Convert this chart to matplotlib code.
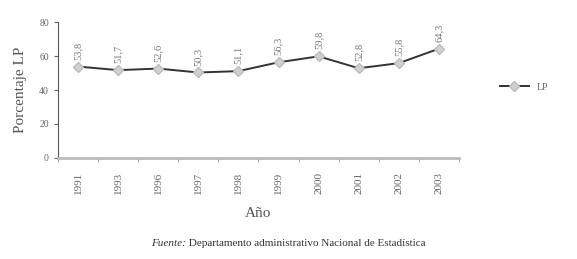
import matplotlib
matplotlib.use("Agg")
import matplotlib.pyplot as plt
import numpy as np

years = ['1991', '1993', '1996', '1997', '1998', '1999', '2000', '2001', '2002', '2003']
lp = [53.8, 51.7, 52.6, 50.3, 51.1, 56.3, 59.8, 52.8, 55.8, 64.3]
y_ticks = [0, 20, 40, 60, 80]

plt.rcParams['font.family'] = ['Liberation Serif', 'DejaVu Serif']

fig = plt.figure(figsize=(5.77, 2.59), dpi=100)
ax = fig.add_axes([0.1005, 0.39, 0.695, 0.525])

x = np.arange(len(years))
ax.plot(x, lp, color='#333333', lw=1.4, marker='D', ms=5,
        mfc='#d0d0d0', mec='#bbbbbb', label='LP')

for xi, v in zip(x, lp):
    ax.annotate(f'{v:.1f}'.replace('.', ','), (xi, v), xytext=(0, 5),
                textcoords='offset points', rotation=90, ha='center', va='bottom',
                fontsize=7.5, color='#777777')

ax.set_xlim(-0.5, len(years) - 0.5)
ax.set_ylim(0, 80)
ax.set_yticks(y_ticks)
ax.set_yticklabels([str(t) for t in y_ticks], fontsize=7, color='#666666')
ax.set_xticks(x)
ax.set_xticklabels(years, rotation=90, fontsize=8, color='#666666')
ax.set_xticks(np.arange(-0.5, len(years)), minor=True)
ax.tick_params(axis='x', which='major', length=0, pad=10)
ax.tick_params(axis='x', which='minor', length=3, color='#999999')
ax.tick_params(axis='y', length=3, color='#666666')

for s in ['top', 'right']:
    ax.spines[s].set_visible(False)
ax.spines['left'].set_color('#555555')
ax.spines['left'].set_linewidth(0.8)
ax.spines['bottom'].set_color('#bbbbbb')
ax.spines['bottom'].set_linewidth(2)

ax.set_ylabel('Porcentaje LP', fontsize=11, color='#555555', labelpad=9)
ax.set_xlabel('Año', fontsize=11, color='#555555', labelpad=9)

ax.legend(loc='center left', bbox_to_anchor=(1.08, 0.52), frameon=False,
          fontsize=7, handlelength=3, labelcolor='#666666')

fig.text(0.322, 0.05, 'Fuente:', fontsize=8, ha='right', style='italic', color='#333333')
fig.text(0.322, 0.05, ' Departamento administrativo Nacional de Estadística',
         fontsize=8, ha='left', color='#333333')

fig.savefig('out.png', dpi=100)
